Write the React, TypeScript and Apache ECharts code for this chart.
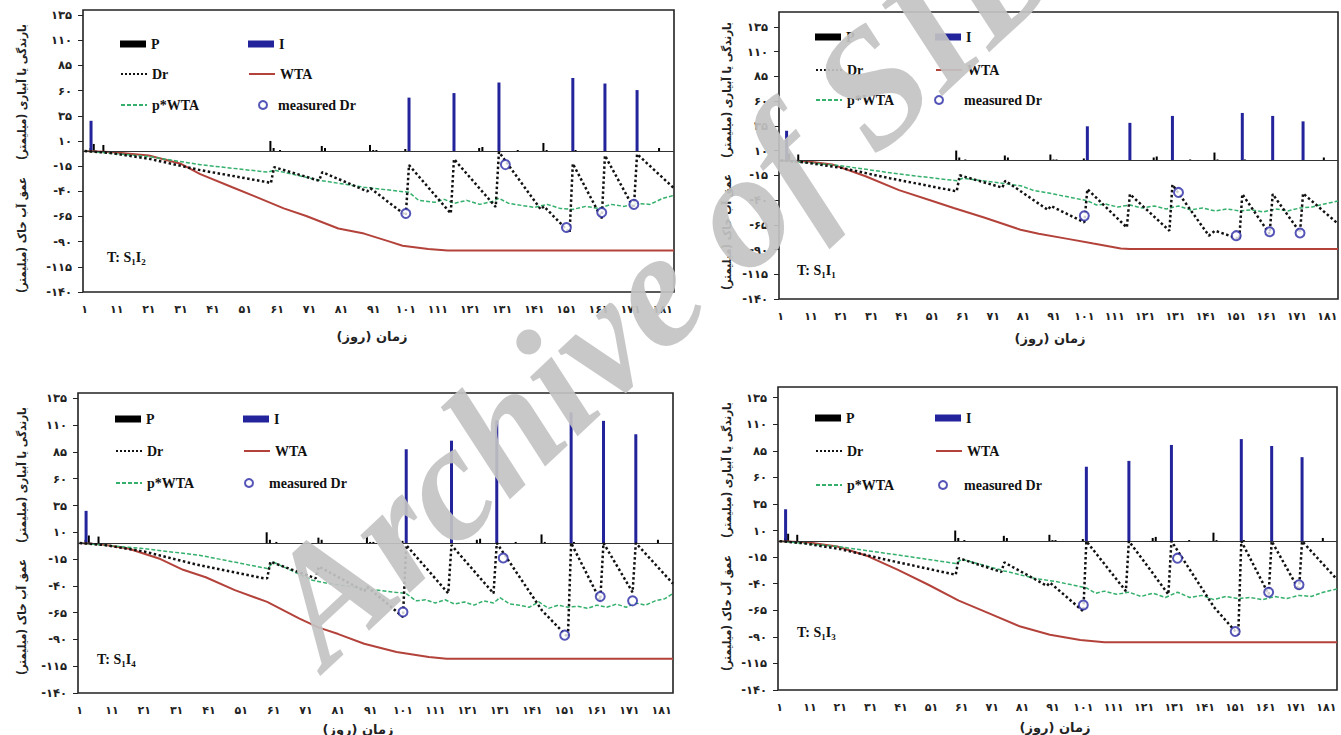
import React, { useEffect, useRef } from 'react';
import * as echarts from 'echarts';

// ---------------- data ----------------
const X_TICKS = [1, 11, 21, 31, 41, 51, 61, 71, 81, 91, 101, 111, 121, 131, 141, 151, 161, 171, 181];
const Y_TICKS = [-140, -115, -90, -65, -40, -15, 10, 35, 60, 85, 110, 135];

// precipitation (same in all treatments)
const P_DAYS = [3, 4, 7, 59, 60, 62, 75, 76, 90, 91, 92, 101, 124, 125, 136, 144, 145, 154, 180];
const P_VALS = [3, 7, 6, 10, 3, 1, 5, 3, 6, 1, 1, 2, 3, 4, 1, 8, 1, 1, 3];

const I_DAYS = [3, 102, 116, 130, 153, 163, 173];
const I_S1I2 = [30, 53, 57.5, 68, 72.5, 67, 60.5];
const I_S1I1 = [30, 34.5, 38, 45, 48, 45, 39.5];
const I_S1I4 = [30, 87.5, 95.5, 114.5, 122, 114, 101.5];
const I_S1I3 = [30, 70, 75.5, 90.5, 96, 89.5, 79];

const DR_S1I2 = [[1, 0], [9, -2], [21, -7.7], [37, -19], [58, -31], [59, -32], [60, -16], [74, -29.5], [75, -21], [89, -40], [90, -37], [101, -64], [102, -14], [115, -62], [116, -8], [129, -55.6], [130, -1], [143, -58], [144, -55], [152, -81], [153, -12.5], [162, -67], [163, -4.5], [172, -57], [173, -3], [184.5, -37]];
const DR_S1I1 = [[1, 0], [9, -2], [21, -7.5], [37, -18], [58, -30.6], [59, -31], [60, -15], [74, -27.5], [75, -20.5], [89, -50], [90, -46], [101, -62.6], [102, -29], [115, -67.7], [116, -34], [129, -71], [130, -24.5], [142, -76], [144, -71], [152, -79.4], [153, -34], [162, -74.3], [163, -34], [172, -72.7], [173, -33.3], [184.5, -64]];
const DR_S1I4 = [[1, 0], [9, -2], [21, -8], [37, -20], [58, -33], [59, -33], [60, -17.5], [74, -33], [75, -22], [89, -45], [90, -41], [101, -69], [102, -2], [115, -47], [116, -2], [129, -47], [130, 0], [144, -63], [152, -88], [153, 0], [162, -53.5], [163, 0], [172, -46], [173, 0], [184.5, -38]];
const DR_S1I3 = [[1, 0], [9, -2], [21, -7.5], [37, -18], [58, -31], [59, -31.5], [60, -16], [74, -29], [75, -20], [89, -42], [90, -39], [101, -66], [102, 0], [115, -47], [116, 0], [129, -50], [130, 0], [144, -62], [152, -88], [153, 0], [162, -50], [163, 0], [172, -46], [173, 0], [184.5, -36]];

const WTA_S1I2 = [[1, 0], [9, -1], [21, -4.5], [31, -12.7], [37, -23], [47, -36], [54, -45], [63, -57], [70, -64.5], [80, -77], [88, -82], [96, -90], [100, -94], [108, -97.4], [114, -98.7], [184.5, -98.7]];
const WTA_S1I1 = [[1, 0], [10, -1], [18, -4], [29, -16], [40, -30], [51, -41], [58, -48], [68, -57.6], [80, -70], [86, -74], [96, -79.5], [104, -84], [113, -89], [116, -89.5], [184.5, -89.5]];
const WTA_S1I4 = [[1, 0], [8, -1.5], [16, -5.1], [26, -15], [33, -25], [40, -32], [49, -44], [59, -55], [69, -70.5], [75, -79], [81, -85], [89, -94], [99, -101.7], [109, -106.4], [114.5, -108], [184.5, -108]];
const WTA_S1I3 = [[1, 0], [10, -1], [20, -5], [30, -14], [40, -27], [50, -41], [60, -56], [70, -68], [80, -80], [90, -88], [100, -93], [108, -95], [184.5, -95]];

const PW_S1I2 = [[1, 0], [21, -5.5], [37, -13.6], [58, -21], [60, -19], [74, -29], [81, -32.5], [88, -36], [102, -41], [105, -49], [110, -51], [113, -48], [116, -52], [120, -49], [124, -53], [128, -50], [130, -47], [133, -52], [137, -54], [141, -56], [145, -53], [149, -57], [153, -58], [157, -55], [161, -57], [165, -53], [169, -55], [173, -52], [177, -53], [181, -47], [184.5, -44]];
const PW_S1I1 = [[1, 0], [20, -5], [40, -13.7], [59, -20.5], [61, -18], [80, -25.5], [84, -30], [91, -34], [102, -40.7], [105, -45], [108, -44], [112, -47], [116, -45], [120, -48], [124, -46], [128, -49], [132, -46], [136, -50], [140, -48], [144, -51], [148, -49], [152, -51], [156, -50], [160, -52], [164, -49], [168, -51], [172, -48], [176, -47], [180, -44], [184.5, -41]];
const PW_S1I4 = [[1, 0], [20, -5], [38, -11.4], [59, -23.8], [61, -18], [73, -34.8], [78, -37.8], [89, -42.5], [102, -47.2], [105, -54], [108, -53], [111, -56], [114, -53], [117, -57], [120, -55], [123, -58], [126, -54], [129, -56], [131, -51], [134, -57], [137, -58], [140, -60], [143, -55], [146, -61], [149, -58], [152, -60], [155, -59], [158, -61], [161, -58], [164, -60], [167, -57], [170, -60], [173, -56], [176, -58], [179, -54], [182, -52], [184.5, -47]];
const PW_S1I3 = [[1, 0], [20, -5], [40, -13], [59, -21], [61, -17], [75, -28], [85, -35], [92, -38], [102, -44], [105, -49], [108, -47], [112, -50], [116, -48], [120, -52], [124, -49], [128, -53], [132, -48], [136, -53], [140, -51], [144, -55], [148, -52], [152, -54], [156, -53], [160, -55], [164, -52], [168, -54], [172, -51], [176, -52], [180, -48], [184.5, -45]];

const M_S1I2 = [[101, -62], [132, -13.5], [151, -76], [162, -61], [172, -53]];
const M_S1I1 = [[101, -56], [132, -32.3], [151, -76], [162, -72], [172, -73.3]];
const M_S1I4 = [[101, -64.4], [132, -14], [151, -86], [162, -50], [172, -54]];
const M_S1I3 = [[101, -60], [132, -16], [151, -85], [162, -48], [172, -41]];

// ---------------- layout ----------------
const PANELS = [
  { t: '2', I: I_S1I2, dr: DR_S1I2, wta: WTA_S1I2, pw: PW_S1I2, m: M_S1I2, yMax: 140,
    grid: { left: 83, top: 10, width: 591, height: 282 },
    leg: { x1: 120, x2: 248, rows: [44, 74, 105], cx: 262, tx: 277 },
    yt: { x: 22, y1: 92, y2: 235 }, xt: { x: 372, y: 336 }, tl: { x: 107, y: 257 } },
  { t: '1', I: I_S1I1, dr: DR_S1I1, wta: WTA_S1I1, pw: PW_S1I1, m: M_S1I1, yMax: 150,
    grid: { left: 779, top: 12, width: 559, height: 287 },
    leg: { x1: 815, x2: 935, rows: [37, 70, 100], cx: 938, tx: 963 },
    yt: { x: 727, y1: 90, y2: 232 }, xt: { x: 1050, y: 338 }, tl: { x: 797, y: 270 } },
  { t: '4', I: I_S1I4, dr: DR_S1I4, wta: WTA_S1I4, pw: PW_S1I4, m: M_S1I4, yMax: 140,
    grid: { left: 78, top: 393, width: 595, height: 300 },
    leg: { x1: 115, x2: 243, rows: [419, 451, 483], cx: 248, tx: 268 },
    yt: { x: 22, y1: 475, y2: 617 }, xt: { x: 358, y: 729 }, tl: { x: 97, y: 659 } },
  { t: '3', I: I_S1I3, dr: DR_S1I3, wta: WTA_S1I3, pw: PW_S1I3, m: M_S1I3, yMax: 145,
    grid: { left: 778, top: 387, width: 559, height: 303 },
    leg: { x1: 815, x2: 935, rows: [418, 451, 485], cx: 942, tx: 963 },
    yt: { x: 727, y1: 470, y2: 613 }, xt: { x: 1055, y: 727 }, tl: { x: 797, y: 632 } },
];

const FA = '۰۱۲۳۴۵۶۷۸۹';
const fa = (v: number) => String(v).replace(/\d/g, (d) => FA[+d]);

const C_I = '#23239b';
const C_WTA = '#b3423b';
const C_PW = '#34b06c';
const C_M = '#2a2aa6';
const SERIF = '"Liberation Serif", "Times New Roman", serif';
const FA_FONT = '"DejaVu Sans", sans-serif';
const FA_TITLE = '"DejaVu Sans Condensed", "DejaVu Sans", sans-serif';

function buildOption() {
  const grid: any[] = [];
  const xAxis: any[] = [];
  const yAxis: any[] = [];
  const series: any[] = [];
  const legend: any[] = [];
  const graphic: any[] = [];

  PANELS.forEach((p, k) => {
    grid.push({ ...p.grid, show: true, borderColor: '#222', borderWidth: 1.6, backgroundColor: '#fff', containLabel: false });
    xAxis.push({
      type: 'value', gridIndex: k, min: 0.5, max: 184.5,
      axisLine: { show: false }, axisTick: { show: false }, splitLine: { show: false },
      axisLabel: { customValues: X_TICKS, formatter: (v: number) => fa(v), fontSize: 11, fontWeight: 'bold', color: '#222', fontFamily: FA_FONT, margin: 12 },
    });
    yAxis.push({
      type: 'value', gridIndex: k, min: -140, max: p.yMax,
      axisLine: { show: false }, splitLine: { show: false },
      axisTick: { show: true, customValues: Y_TICKS, length: 5, lineStyle: { color: '#222', width: 1 } },
      axisLabel: { customValues: Y_TICKS, formatter: (v: number) => fa(v), fontSize: 11.5, fontWeight: 'bold', color: '#222', fontFamily: FA_FONT, margin: 11 },
    });
    series.push({
      type: 'bar', name: 'P', xAxisIndex: k, yAxisIndex: k, barWidth: 2, barGap: '-100%',
      itemStyle: { color: '#000' },
      data: P_DAYS.map((d, i) => [d, P_VALS[i]]),
      markLine: { silent: true, symbol: 'none', label: { show: false }, lineStyle: { color: '#333', width: 1, type: 'solid' }, data: [{ yAxis: 0 }] },
    });
    series.push({
      type: 'bar', name: 'I', xAxisIndex: k, yAxisIndex: k, barWidth: 3, barGap: '-100%',
      itemStyle: { color: C_I },
      data: I_DAYS.map((d, i) => [d, p.I[i]]),
    });
    series.push({
      type: 'line', name: 'WTA', xAxisIndex: k, yAxisIndex: k, symbol: 'none', showSymbol: false,
      lineStyle: { color: C_WTA, width: 2 }, itemStyle: { color: C_WTA }, data: p.wta, z: 3,
    });
    series.push({
      type: 'line', name: 'p*WTA', xAxisIndex: k, yAxisIndex: k, symbol: 'none', showSymbol: false,
      lineStyle: { color: C_PW, width: 1.5, type: [4, 2] }, itemStyle: { color: C_PW }, data: p.pw, z: 4,
    });
    series.push({
      type: 'line', name: 'Dr', xAxisIndex: k, yAxisIndex: k, symbol: 'none', showSymbol: false,
      lineStyle: { color: '#111', width: 2.5, type: 'dotted' }, itemStyle: { color: '#111' }, data: p.dr, z: 5,
    });
    series.push({
      type: 'scatter', name: 'measured Dr', xAxisIndex: k, yAxisIndex: k, symbol: 'emptyCircle', symbolSize: 9,
      itemStyle: { color: C_M, borderColor: C_M, borderWidth: 2 }, data: p.m, z: 6,
    });

    const ts = { fontFamily: SERIF, fontWeight: 'bold', fontSize: 14, color: '#111', lineHeight: 16 };
    const L = p.leg;
    const mk = (name: string, left: number, row: number, w: number, h: number, extra: any = {}) => ({
      show: true, selectedMode: false, padding: 0, left, top: row - 8, itemWidth: w, itemHeight: h,
      data: [{ name }], textStyle: ts, itemGap: 0, ...extra,
    });
    const hideSym = { itemStyle: { opacity: 0 } };
    legend.push(mk('P', L.x1, L.rows[0], 26, 7, { icon: 'rect' }));
    legend.push(mk('I', L.x2, L.rows[0], 26, 7, { icon: 'rect' }));
    legend.push(mk('Dr', L.x1, L.rows[1], 26, 8, hideSym));
    legend.push(mk('WTA', L.x2, L.rows[1], 26, 8, hideSym));
    legend.push(mk('p*WTA', L.x1, L.rows[2], 26, 8, hideSym));
    legend.push(mk('measured Dr', L.cx - 4, L.rows[2], 8, 8, {
      textStyle: { ...ts, padding: [0, 0, 0, L.tx - (L.cx + 4) - 5] },
    }));

    const faStyle = { fontFamily: FA_TITLE, fontWeight: 'bold', fontSize: 11.5, fill: '#222', align: 'center', verticalAlign: 'middle' };
    graphic.push({ type: 'text', x: p.yt.x, y: p.yt.y1, rotation: Math.PI / 2, style: { ...faStyle, text: 'بارندگی یا آبیاری (میلیمتر)' } });
    graphic.push({ type: 'text', x: p.yt.x, y: p.yt.y2, rotation: Math.PI / 2, style: { ...faStyle, text: 'عمق آب خاک (میلیمتر)' } });
    graphic.push({ type: 'text', x: p.xt.x, y: p.xt.y, style: { ...faStyle, fontFamily: FA_FONT, fontSize: 13, text: 'زمان (روز)' } });
    graphic.push({
      type: 'text', x: p.tl.x, y: p.tl.y,
      style: {
        text: `{a|T: S}{b|1}{a|I}{b|${p.t}}`, align: 'left', verticalAlign: 'middle',
        rich: {
          a: { fontFamily: SERIF, fontWeight: 'bold', fontSize: 14, fill: '#111', lineHeight: 18, verticalAlign: 'middle' },
          b: { fontFamily: SERIF, fontWeight: 'bold', fontSize: 9, fill: '#111', lineHeight: 9, verticalAlign: 'bottom' },
        },
      },
    });
  });

  graphic.push({
    type: 'text', x: 345, y: 690, rotation: (43 * Math.PI) / 180, z: 100, silent: true,
    style: {
      text: 'Archive of SID', fontFamily: SERIF, fontStyle: 'italic', fontWeight: 'bold', fontSize: 165,
      fill: 'rgba(195,195,195,0.92)', align: 'left', verticalAlign: 'bottom',
    },
  });

  return { animation: false, backgroundColor: '#fff', grid, xAxis, yAxis, series, legend, graphic };
}

export default function App() {
  const ref = useRef<HTMLDivElement>(null);
  useEffect(() => {
    if (!ref.current) return;
    const chart = echarts.init(ref.current, undefined, { renderer: 'svg' });
    chart.setOption(buildOption() as any);
    return () => chart.dispose();
  }, []);
  return <div ref={ref} style={{ position: 'absolute', left: 0, top: 0, width: 1341, height: 735, background: '#fff' }} />;
}
